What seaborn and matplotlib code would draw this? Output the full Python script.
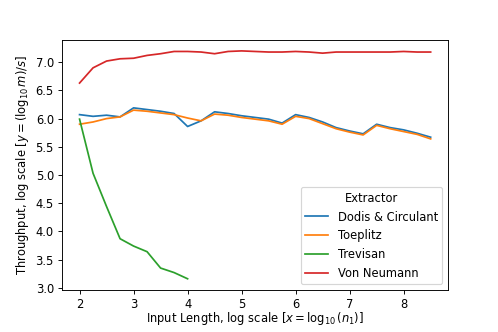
import numpy as np
import pandas as pd
import matplotlib
matplotlib.use("Agg")
import matplotlib.pyplot as plt
import seaborn as sns

# input length grid, log10(n1)
x_full = [2.0, 2.25, 2.5, 2.75, 3.0, 3.25, 3.5, 3.75, 4.0, 4.25, 4.5, 4.75, 5.0,
          5.25, 5.5, 5.75, 6.0, 6.25, 6.5, 6.75, 7.0, 7.25, 7.5, 7.75, 8.0,
          8.25, 8.5]
x_trevisan = [2.0, 2.25, 2.5, 2.75, 3.0, 3.25, 3.5, 3.75, 4.0]

dodis = [6.07, 6.04, 6.06, 6.03, 6.19, 6.16, 6.13, 6.09, 5.86, 5.96, 6.12,
         6.09, 6.05, 6.02, 5.99, 5.92, 6.07, 6.02, 5.94, 5.84, 5.78, 5.73,
         5.90, 5.84, 5.80, 5.74, 5.67]
toeplitz = [5.90, 5.94, 6.00, 6.03, 6.15, 6.13, 6.10, 6.07, 6.01, 5.96, 6.08,
            6.06, 6.02, 5.99, 5.96, 5.90, 6.04, 6.00, 5.91, 5.82, 5.76, 5.71,
            5.88, 5.82, 5.77, 5.72, 5.64]
trevisan = [5.99, 5.03, 4.44, 3.87, 3.74, 3.64, 3.35, 3.27, 3.16]
von_neumann = [6.63, 6.90, 7.02, 7.06, 7.07, 7.12, 7.15, 7.19, 7.19, 7.18,
               7.15, 7.19, 7.20, 7.19, 7.18, 7.18, 7.19, 7.18, 7.16, 7.18,
               7.18, 7.18, 7.18, 7.18, 7.19, 7.18, 7.18]

names = ["Dodis & Circulant", "Toeplitz", "Trevisan", "Von Neumann"]

df = pd.concat([
    pd.DataFrame({"x": x_full, "y": dodis, "Extractor": names[0]}),
    pd.DataFrame({"x": x_full, "y": toeplitz, "Extractor": names[1]}),
    pd.DataFrame({"x": x_trevisan, "y": trevisan, "Extractor": names[2]}),
    pd.DataFrame({"x": x_full, "y": von_neumann, "Extractor": names[3]}),
], ignore_index=True)

fig, ax = plt.subplots(figsize=(6, 4), dpi=83)
fig.subplots_adjust(left=0.1245, right=0.9, top=0.881, bottom=0.126)
sns.lineplot(data=df, x="x", y="y", hue="Extractor", hue_order=names,
             palette="tab10", ax=ax)
ax.set_xlabel(r"Input Length, log scale [$x = \log_{10}(n_1)$]", labelpad=-1)
ax.set_ylabel(r"Throughput, log scale [$y = (\log_{10} m)/s$]")
ax.legend(title="Extractor", loc="lower right")

fig.savefig("out.png", dpi=83)
